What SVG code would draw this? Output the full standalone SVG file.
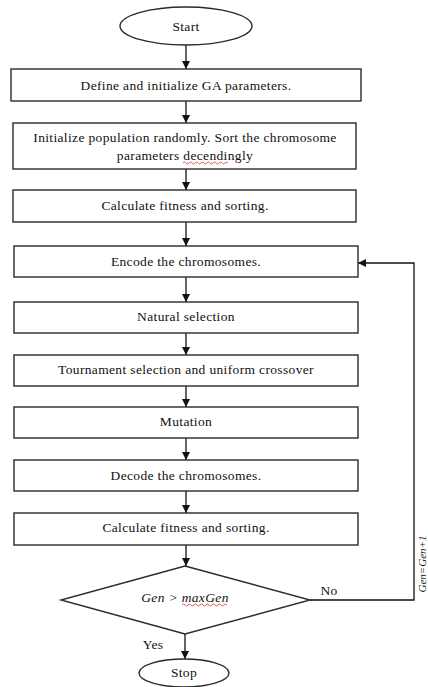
<svg xmlns="http://www.w3.org/2000/svg" width="428" height="687" viewBox="0 0 428 687">
<defs>
<marker id="ah" viewBox="0 0 10 10" refX="10" refY="5" markerWidth="8" markerHeight="8" markerUnits="userSpaceOnUse" orient="auto">
<path d="M0,0 L10,5 L0,10 z" fill="#111"/>
</marker>
<style>
.n{fill:#fff;stroke:#2a2a2a;stroke-width:1.4}
.t{font-family:"Liberation Serif","DejaVu Serif","Times New Roman",serif;font-size:13.5px;letter-spacing:0.35px;fill:#111;text-anchor:middle}
.i{font-style:italic}
.c{fill:none;stroke:#111;stroke-width:1.3}
.sq{fill:none;stroke:#e03030;stroke-width:0.8}
</style>
</defs>
<rect width="428" height="687" fill="#fff"/>
<g id="connectors">
<line class="c" x1="186" y1="45" x2="186" y2="69" marker-end="url(#ah)"/>
<line class="c" x1="186" y1="101" x2="186" y2="123" marker-end="url(#ah)"/>
<line class="c" x1="186" y1="169" x2="186" y2="190" marker-end="url(#ah)"/>
<line class="c" x1="186" y1="222" x2="186" y2="246" marker-end="url(#ah)"/>
<line class="c" x1="186" y1="277" x2="186" y2="302" marker-end="url(#ah)"/>
<line class="c" x1="186" y1="333" x2="186" y2="355" marker-end="url(#ah)"/>
<line class="c" x1="186" y1="386" x2="186" y2="407" marker-end="url(#ah)"/>
<line class="c" x1="186" y1="438" x2="186" y2="460" marker-end="url(#ah)"/>
<line class="c" x1="186" y1="491" x2="186" y2="513" marker-end="url(#ah)"/>
<line class="c" x1="186" y1="545" x2="186" y2="566" marker-end="url(#ah)"/>
<line class="c" x1="185" y1="634" x2="185" y2="659" marker-end="url(#ah)"/>
<polyline class="c" points="310,600 414,600 414,263 358,263" marker-end="url(#ah)"/>
<text class="t" font-family="Liberation Serif, DejaVu Serif, serif" x="329" y="595">No</text>
<text class="t" font-family="Liberation Serif, DejaVu Serif, serif" x="153" y="649">Yes</text>
<text class="t i" font-family="Liberation Serif, DejaVu Serif, serif" style="font-size:11px;letter-spacing:0" transform="translate(426,564) rotate(-90)">Gen=Gen+1</text>
</g>
<g id="start"><ellipse class="n" cx="186" cy="26" rx="66" ry="19"/><text class="t" font-family="Liberation Serif, DejaVu Serif, serif" x="186" y="31">Start</text></g>
<g id="define"><rect class="n" x="11" y="69" width="350" height="32"/><text class="t" font-family="Liberation Serif, DejaVu Serif, serif" x="186" y="90">Define and initialize GA parameters.</text></g>
<g id="init"><rect class="n" x="13" y="123" width="343" height="46"/><text class="t" font-family="Liberation Serif, DejaVu Serif, serif" x="185" y="142">Initialize population randomly. Sort the chromosome</text><text class="t" font-family="Liberation Serif, DejaVu Serif, serif" x="185" y="160">parameters decendingly</text><path class="sq" d="M183,163 q1.5,-2 3,0 t3,0 t3,0 t3,0 t3,0 t3,0 t3,0 t3,0 t3,0 t3,0 t3,0 t3,0 t3,0 t3,0 t3,0"/></g>
<g id="fit1"><rect class="n" x="13" y="190" width="343" height="32"/><text class="t" font-family="Liberation Serif, DejaVu Serif, serif" x="185" y="210">Calculate fitness and sorting.</text></g>
<g id="encode"><rect class="n" x="14" y="246" width="344" height="31"/><text class="t" font-family="Liberation Serif, DejaVu Serif, serif" x="186" y="266">Encode the chromosomes.</text></g>
<g id="natural"><rect class="n" x="14" y="302" width="344" height="31"/><text class="t" font-family="Liberation Serif, DejaVu Serif, serif" x="186" y="321">Natural selection</text></g>
<g id="tournament"><rect class="n" x="14" y="355" width="344" height="31"/><text class="t" font-family="Liberation Serif, DejaVu Serif, serif" x="186" y="374">Tournament selection and uniform crossover</text></g>
<g id="mutation"><rect class="n" x="14" y="407" width="344" height="31"/><text class="t" font-family="Liberation Serif, DejaVu Serif, serif" x="186" y="426">Mutation</text></g>
<g id="decode"><rect class="n" x="14" y="460" width="344" height="31"/><text class="t" font-family="Liberation Serif, DejaVu Serif, serif" x="186" y="480">Decode the chromosomes.</text></g>
<g id="fit2"><rect class="n" x="14" y="513" width="344" height="32"/><text class="t" font-family="Liberation Serif, DejaVu Serif, serif" x="186" y="532">Calculate fitness and sorting.</text></g>
<g id="decision"><polygon class="n" points="185,566 310,600 185,634 61,600"/><text class="t i" font-family="Liberation Serif, DejaVu Serif, serif" x="185" y="602">Gen &gt; maxGen</text><path class="sq" d="M182,605 q1.5,-2 3,0 t3,0 t3,0 t3,0 t3,0 t3,0 t3,0 t3,0 t3,0 t3,0 t3,0 t3,0 t3,0 t3,0 t3,0"/></g>
<g id="stop"><ellipse class="n" cx="184" cy="673" rx="45" ry="14"/><text class="t" font-family="Liberation Serif, DejaVu Serif, serif" x="184" y="677">Stop</text></g>
</svg>
